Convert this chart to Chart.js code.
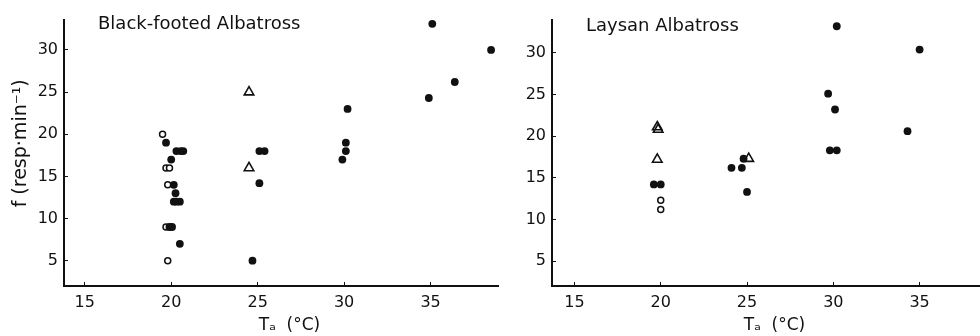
<!DOCTYPE html>
<html>
<head>
<title>Respiratory frequency vs ambient temperature</title>
<script src="https://cdn.jsdelivr.net/npm/chart.js"></script>
<style>
body { margin: 0; background: #fff; }
#wrap { display: flex; width: 980px; height: 336px; }
#left { width: 500px; height: 336px; position: relative; }
#right { width: 480px; height: 336px; position: relative; }
</style>
</head>
<body>
<div id="wrap">
  <div id="left"><canvas id="bf"></canvas></div>
  <div id="right"><canvas id="ly"></canvas></div>
</div>
<script>
// ticks
const xTicks = [15, 20, 25, 30, 35];
const yTicks = [5, 10, 15, 20, 25, 30];

// Black-footed Albatross
const bfFilledTa = [19.7, 20.3, 20.55, 20.7, 20.0, 20.15, 20.25, 20.15, 20.3, 20.5, 19.9, 20.05, 20.5, 24.7, 25.1, 25.1, 25.4, 29.9, 30.1, 30.1, 30.2, 34.9, 35.1, 36.4, 38.5];
const bfFilledF  = [19, 18, 18, 18, 17, 14, 13, 12, 12, 12, 9, 9, 7, 5, 14.2, 18, 18, 17, 18, 19, 23, 24.3, 33.1, 26.2, 30];
const bfOpenTa = [19.5, 19.7, 19.9, 19.8, 19.7, 19.8];
const bfOpenF  = [20, 16, 16, 14, 9, 5];
const bfTriTa = [24.5, 24.5];
const bfTriF  = [25, 16];

// Laysan Albatross
const lyFilledTa = [19.6, 20.0, 24.1, 24.7, 24.8, 25.0, 29.7, 30.1, 29.8, 30.2, 30.2, 35.0, 34.3];
const lyFilledF  = [14.2, 14.2, 16.2, 16.2, 17.3, 13.3, 25.1, 23.2, 18.3, 18.3, 33.2, 30.4, 20.6];
const lyOpenTa = [20.0, 20.0];
const lyOpenF  = [12.3, 11.2];
const lyTriTa = [19.8, 19.85, 19.8, 25.1];
const lyTriF  = [21.1, 20.8, 17.2, 17.3];

const FONT = '"DejaVu Sans", "Liberation Sans", Arial, sans-serif';
const INK = '#111';

function pts(xs, ys) {
  return xs.map((x, i) => ({ x: x, y: ys[i] }));
}

// panel name written inside the plot, top left
const panelTitle = {
  id: 'panelTitle',
  afterDraw(chart, args, opts) {
    const ctx = chart.ctx;
    ctx.save();
    ctx.font = '18px ' + FONT;
    ctx.fillStyle = INK;
    ctx.textBaseline = 'alphabetic';
    ctx.fillText(opts.text, chart.chartArea.left + 34, opts.y);
    ctx.restore();
  }
};

function makeChart(id, title, titleY, filled, open, tri, yMax, xMin, xMax, yAxisWidth, yTitle, padRight) {
  return new Chart(document.getElementById(id), {
    type: 'scatter',
    data: {
      datasets: [
        { data: filled, pointStyle: 'circle', pointRadius: 3.9, backgroundColor: INK, borderColor: INK, borderWidth: 0 },
        { data: open, pointStyle: 'circle', pointRadius: 3, backgroundColor: '#fff', borderColor: INK, borderWidth: 1.5 },
        { data: tri, pointStyle: 'triangle', pointRadius: 5.5, backgroundColor: 'rgba(255,255,255,0)', borderColor: INK, borderWidth: 1.6 }
      ]
    },
    options: {
      responsive: true,
      maintainAspectRatio: false,
      animation: false,
      layout: { autoPadding: false, padding: { top: 17, right: padRight, left: 0, bottom: 0 } },
      plugins: {
        legend: { display: false },
        tooltip: { enabled: false },
        panelTitle: { text: title, y: titleY }
      },
      scales: {
        x: {
          type: 'linear',
          min: xMin,
          max: xMax,
          afterBuildTicks: axis => { axis.ticks = xTicks.map(v => ({ value: v })); },
          afterFit: axis => { axis.height = 50; },
          grid: { display: true, drawOnChartArea: false, drawTicks: true, tickLength: -4, color: INK, lineWidth: 1 },
          border: { display: true, color: INK, width: 2 },
          ticks: { color: INK, font: { family: FONT, size: 16 }, padding: 11, maxRotation: 0 },
          title: { display: true, text: '\u2003Tₐ  (°C)', color: INK, font: { family: FONT, size: 17 }, padding: { top: 0, bottom: 0 } }
        },
        y: {
          type: 'linear',
          min: 2,
          max: yMax,
          afterBuildTicks: axis => { axis.ticks = yTicks.map(v => ({ value: v })); },
          afterFit: axis => { axis.width = yAxisWidth; },
          grid: { display: true, drawOnChartArea: false, drawTicks: true, tickLength: -4, color: INK, lineWidth: 1 },
          border: { display: true, color: INK, width: 2 },
          ticks: { color: INK, font: { family: FONT, size: 16 }, padding: 10 },
          title: { display: yTitle !== '', text: yTitle, color: INK, font: { family: FONT, size: 19 }, padding: { top: 10, bottom: 0 } }
        }
      }
    },
    plugins: [panelTitle]
  });
}

makeChart('bf', 'Black-footed Albatross', 29, pts(bfFilledTa, bfFilledF), pts(bfOpenTa, bfOpenF), pts(bfTriTa, bfTriF),
  33.6, 13.8, 38.9, 64, '\u2003f (resp·min⁻¹)', 2);
makeChart('ly', 'Laysan Albatross', 31, pts(lyFilledTa, lyFilledF), pts(lyOpenTa, lyOpenF), pts(lyTriTa, lyTriF),
  34, 13.7, 38.5, 52, '', 0);
</script>
</body>
</html>
